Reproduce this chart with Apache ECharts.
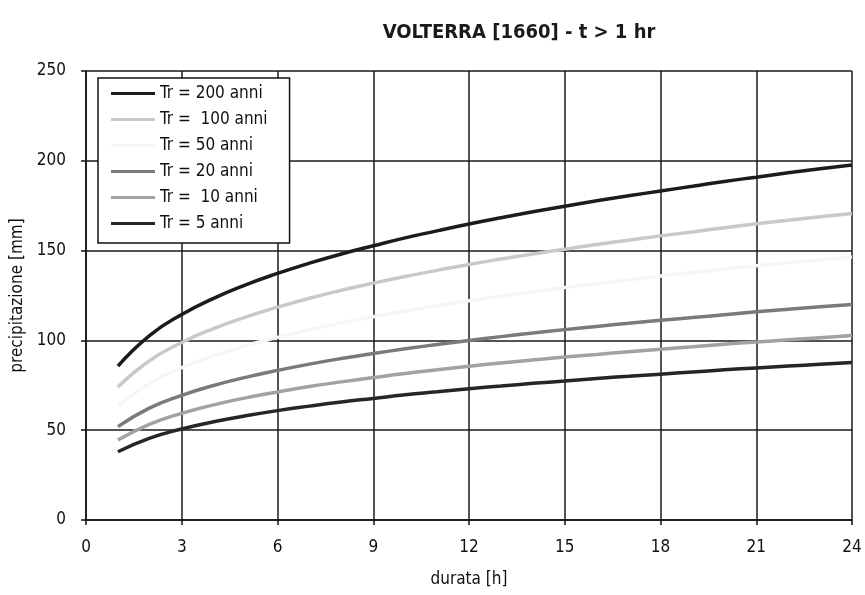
<!DOCTYPE html>
<html>
<head>
<meta charset="utf-8">
<script src="https://cdn.jsdelivr.net/npm/echarts@6/dist/echarts.min.js"></script>
<style>
  html, body { margin: 0; padding: 0; background: #ffffff; }
  #chart { width: 865px; height: 595px; }
</style>
</head>
<body>
<div id="chart"></div>
<script>
// durata [h]
var durata = [1, 2, 3, 4, 5, 6, 7, 8, 9, 10, 11, 12, 13, 14, 15, 16, 17, 18, 19, 20, 21, 22, 23, 24];

// precipitazione [mm]
var tr200 = [85.7, 102.8, 114.4, 123.4, 130.9, 137.3, 143.0, 148.1, 152.7, 157.1, 161.0, 164.8, 168.3, 171.6, 174.7, 177.7, 180.5, 183.2, 185.8, 188.5, 190.9, 193.3, 195.6, 197.7];
var tr100 = [74.0, 88.8, 98.8, 106.6, 113.0, 118.5, 123.5, 127.9, 131.9, 135.6, 139.0, 142.3, 145.3, 148.1, 150.8, 153.4, 155.8, 158.2, 160.4, 162.7, 164.9, 166.9, 168.9, 170.7];
var tr50 = [63.5, 76.2, 84.8, 91.4, 97.0, 101.7, 106.0, 109.7, 113.2, 116.4, 119.3, 122.1, 124.7, 127.1, 129.4, 131.6, 133.7, 135.8, 137.7, 139.6, 141.5, 143.2, 144.9, 146.5];
var tr20 = [52.0, 62.4, 69.4, 74.9, 79.4, 83.3, 86.8, 89.9, 92.7, 95.3, 97.7, 100.0, 102.1, 104.1, 106.0, 107.8, 109.5, 111.2, 112.7, 114.3, 115.9, 117.3, 118.7, 120.0];
var tr10 = [44.5, 53.4, 59.4, 64.1, 68.0, 71.3, 74.3, 76.9, 79.3, 81.6, 83.6, 85.6, 87.4, 89.1, 90.7, 92.2, 93.7, 95.1, 96.5, 97.9, 99.1, 100.3, 101.5, 102.7];
var tr5 = [38.0, 45.6, 50.7, 54.7, 58.0, 60.9, 63.4, 65.7, 67.7, 69.7, 71.4, 73.1, 74.6, 76.1, 77.4, 78.8, 80.0, 81.2, 82.4, 83.6, 84.7, 85.7, 86.7, 87.7];

var nomi = ['Tr = 200 anni', 'Tr =  100 anni', 'Tr = 50 anni', 'Tr = 20 anni', 'Tr =  10 anni', 'Tr = 5 anni'];
var colori = ['#1c1c1c', '#c9c9c9', '#f6f6f6', '#7a7a7a', '#a2a2a2', '#262626'];
var valori = [tr200, tr100, tr50, tr20, tr10, tr5];

var font = 'DejaVu Sans Condensed, DejaVu Sans, sans-serif';

function coppie(arr) {
  return durata.map(function (t, i) { return [t, arr[i]]; });
}

var series = valori.map(function (v, i) {
  return {
    name: nomi[i],
    type: 'line',
    data: coppie(v),
    smooth: true,
    showSymbol: false,
    lineStyle: { color: colori[i], width: 3.5 },
    itemStyle: { color: colori[i] },
    z: 5
  };
});

var myChart = echarts.init(document.getElementById('chart'));
myChart.setOption({
  backgroundColor: '#ffffff',
  animation: false,
  textStyle: { fontFamily: font, color: '#111' },
  title: {
    text: 'VOLTERRA [1660] - t > 1 hr',
    left: 514,
    textAlign: 'center',
    top: 18,
    textStyle: { fontSize: 20, fontWeight: 'bold', color: '#1a1a1a', fontFamily: font }
  },
  legend: {
    orient: 'vertical',
    left: 98,
    top: 78,
    padding: [7, 22, 11, 13],
    itemWidth: 44,
    itemHeight: 14,
    itemGap: 9,
    backgroundColor: '#ffffff',
    borderColor: '#111',
    borderWidth: 1.5,
    icon: 'path://M0,6 L44,6 L44,9 L0,9 Z',
    textStyle: { fontSize: 17, lineHeight: 17, color: '#111', fontFamily: font },
    data: nomi
  },
  grid: { left: 86, right: 13, top: 71, bottom: 75 },
  xAxis: {
    type: 'value',
    min: 0,
    max: 24,
    interval: 3,
    name: 'durata [h]',
    nameLocation: 'middle',
    nameGap: 51,
    nameTextStyle: { fontSize: 17, color: '#111' },
    axisLine: { lineStyle: { color: '#111', width: 1.5 } },
    axisTick: { show: true, length: 5, lineStyle: { color: '#111', width: 1.5 } },
    axisLabel: { fontSize: 17, color: '#111', margin: 19 },
    splitLine: { show: true, lineStyle: { color: '#1a1a1a', width: 1.5 } }
  },
  yAxis: {
    type: 'value',
    min: 0,
    max: 250,
    interval: 50,
    name: 'precipitazione [mm]',
    nameLocation: 'middle',
    nameGap: 58,
    nameTextStyle: { fontSize: 17, color: '#111' },
    axisLine: { show: true, lineStyle: { color: '#111', width: 1.5 } },
    axisTick: { show: true, length: 5, lineStyle: { color: '#111', width: 1.5 } },
    axisLabel: { fontSize: 17, color: '#111', margin: 20 },
    splitLine: { show: true, lineStyle: { color: '#1a1a1a', width: 1.5 } }
  },
  series: series
});
</script>
</body>
</html>
